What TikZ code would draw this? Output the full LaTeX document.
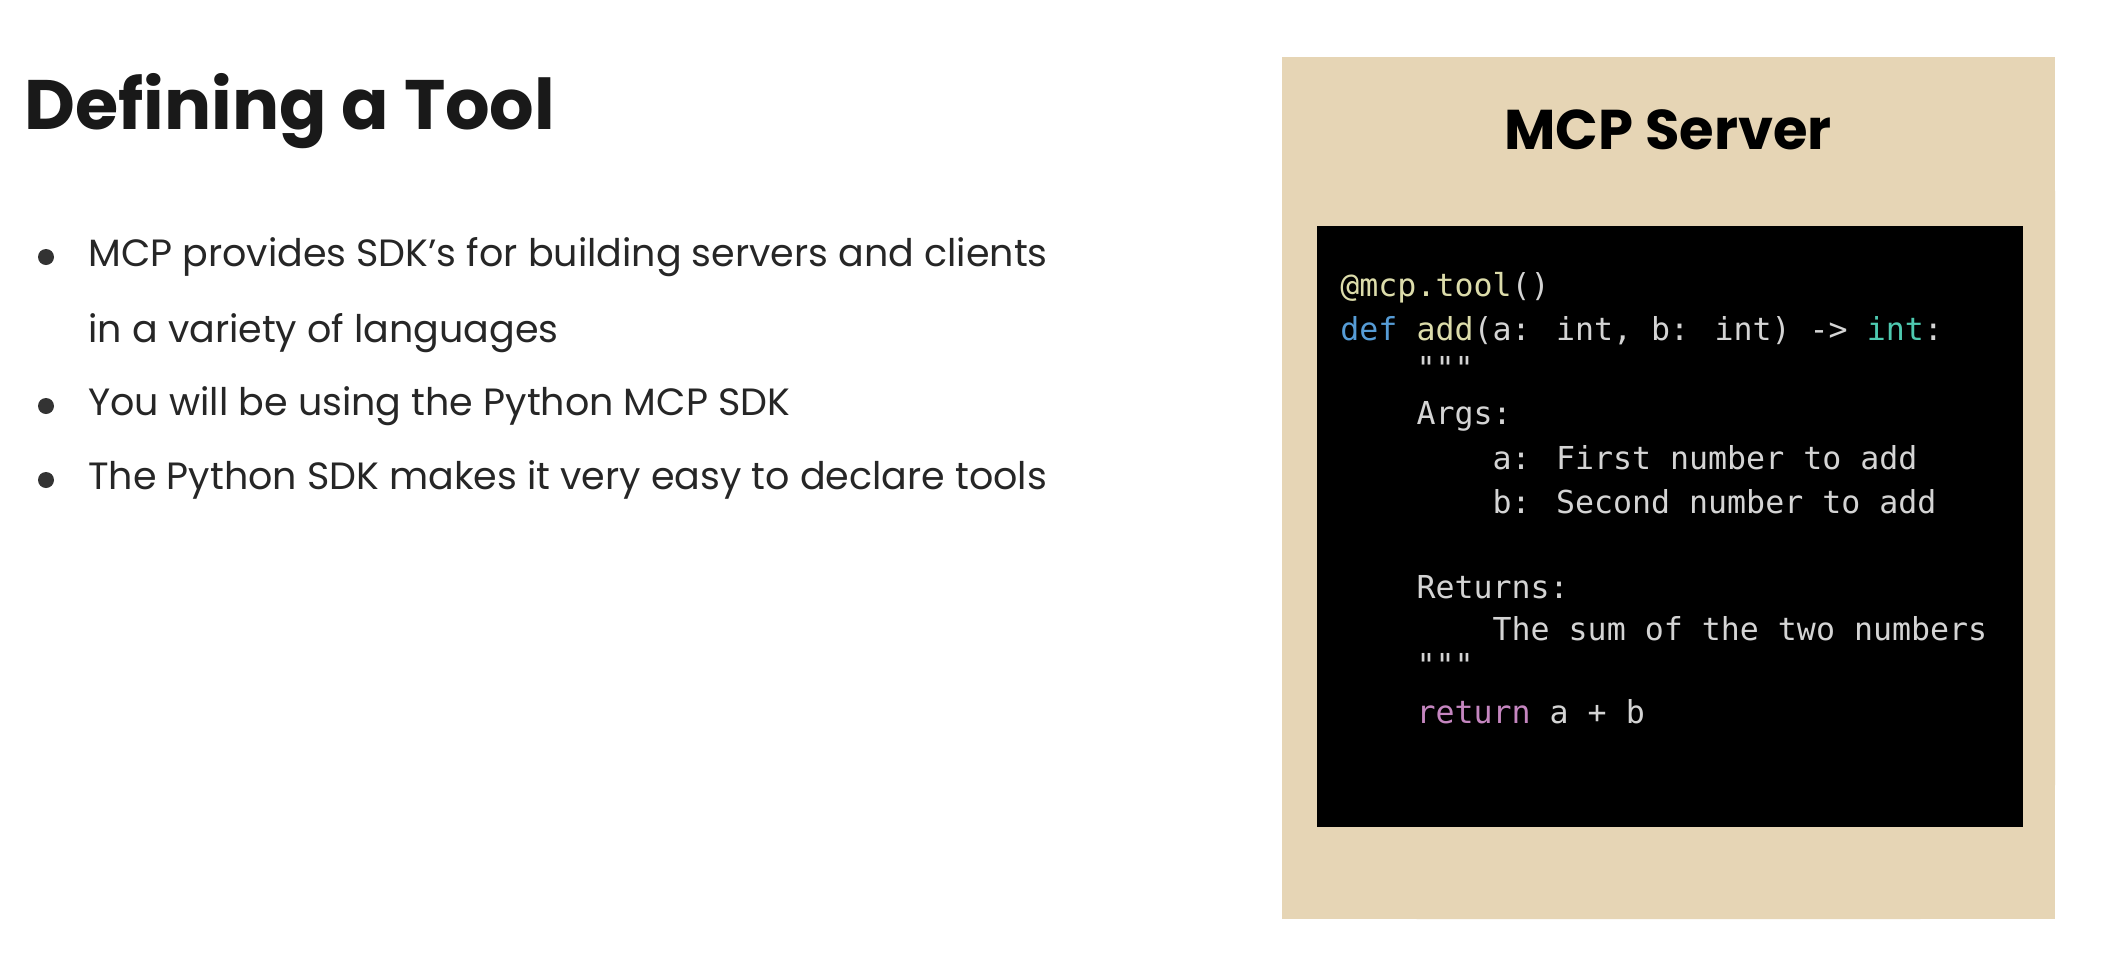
\documentclass[tikz,border=0pt]{standalone}
\usepackage{fontspec}
\setmainfont{Poppins}
\newfontfamily\codefont{DejaVu Sans Mono}
\definecolor{panel}{HTML}{E6D5B5}
\definecolor{codegray}{HTML}{D4D4D4}
\definecolor{codeyellow}{HTML}{DCDCAA}
\definecolor{codeblue}{HTML}{569CD6}
\definecolor{codeteal}{HTML}{4EC9B0}
\definecolor{codepurple}{HTML}{C586C0}
\begin{document}
\begin{tikzpicture}[x=0.5pt,y=-0.5pt,
  bullettext/.style={anchor=west,inner sep=0pt,font=\fontsize{19}{23}\selectfont,text=black!85},
  codeline/.style={anchor=west,inner sep=0pt,font=\codefont\fontsize{15.8}{19}\selectfont,text=codegray}]
\useasboundingbox[fill=white] (0,0) rectangle (2120,976);

% Title
\node[anchor=west,inner sep=0pt,font=\bfseries\fontsize{35}{40}\selectfont,text=black!90] (title) at (24,111) {Defining a Tool};

% Bullet list
\node[bullettext] (b1) at (88,257) {MCP provides SDK’s for building servers and clients};
\node[bullettext] (b1b) at (88,333) {in a variety of languages};
\node[bullettext] (b2) at (88,406) {You will be using the Python MCP SDK};
\node[bullettext] (b3) at (88,480) {The Python SDK makes it very easy to declare tools};
\foreach \y in {257,406,480}
  \fill[black!80] (46,\y) circle (8);

% Server panel
\fill[panel] (1282,57) rectangle (2055,919) [rounded corners=68];
\fill[panel,rounded corners=68] (1282,57) rectangle (2055,919);
\node[font=\bfseries\fontsize{28}{32}\selectfont] (server) at (1668,130) {MCP Server};
\fill[black] (1317,226) rectangle (2023,827);

% Code
\node[codeline] (c1) at (1340,288) {\textcolor{codeyellow}{@mcp.tool}()};
\node[codeline] (c2) at (1340,331) {\textcolor{codeblue}{def} \textcolor{codeyellow}{add}(a: int, b: int) -> \textcolor{codeteal}{int}:};
\node[codeline] (c3) at (1340,368) {\ \ \ \ """};
\node[codeline] (c4) at (1340,416) {\ \ \ \ Args:};
\node[codeline] (c5) at (1340,458) {\ \ \ \ \ \ \ \ a: First number to add};
\node[codeline] (c6) at (1340,502) {\ \ \ \ \ \ \ \ b: Second number to add};
\node[codeline] (c7) at (1340,587) {\ \ \ \ Returns:};
\node[codeline] (c8) at (1340,629) {\ \ \ \ \ \ \ \ The sum of the two numbers};
\node[codeline] (c9) at (1340,665) {\ \ \ \ """};
\node[codeline] (c10) at (1340,712) {\ \ \ \ \textcolor{codepurple}{return} a + b};

\end{tikzpicture}
\end{document}
